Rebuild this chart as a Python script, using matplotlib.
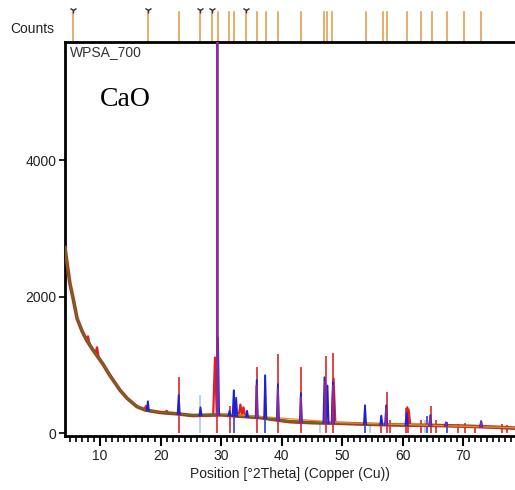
import numpy as np
import matplotlib
matplotlib.use("Agg")
import matplotlib.pyplot as plt
from matplotlib.ticker import MultipleLocator
import matplotlib.transforms as mtransforms

# ---- data ----
base_x = [4.2, 4.6, 5.0, 5.6, 6.2, 7.0, 7.8, 8.9, 10.5, 11.6, 13.3, 14.5, 16.1, 17.5,
          19.9, 22.7, 25.3, 30.0, 33.0, 36.4, 41.3, 45.0, 50.0, 55.0, 60.0, 65.0, 70.0, 75.0, 78.6]
base_y = [2720, 2450, 2200, 1950, 1680, 1500, 1360, 1210, 1010, 850, 630, 510, 390, 340,
          305, 285, 260, 270, 250, 230, 170, 155, 145, 130, 120, 115, 105, 90, 75]

# fitted-profile peaks (blue line)
peak_pos = [17.9, 23.0, 26.6, 29.5, 31.4, 32.1, 32.5, 34.3, 35.9, 37.3, 39.4, 43.2,
            47.1, 47.6, 48.5, 53.8, 56.5, 57.3, 60.7, 64.6, 67.2, 73.0]
peak_h = [470, 560, 380, 1400, 330, 630, 520, 330, 780, 850, 720, 590,
          820, 700, 750, 410, 260, 410, 300, 265, 160, 180]
# purple overlay peaks
purple_pos = [29.4, 35.9, 39.4, 43.2, 47.2, 48.5, 57.3, 64.6, 67.2, 73.0]
purple_h = [7000, 700, 650, 520, 760, 700, 360, 240, 150, 170]

# red observed bumps
red_pos = [8.0, 9.5, 17.6, 21.0, 29.0, 33.2, 33.7, 48.6, 60.8, 61.0]
red_h = [1420, 1260, 400, 330, 1110, 420, 380, 800, 380, 350]

# reference sticks
red_stick_pos = [23.0, 29.4, 31.5, 35.9, 39.4, 43.2, 47.3, 48.5, 56.5, 57.4, 58.0,
                 60.6, 60.9, 63.1, 64.7, 65.6, 69.1, 70.3, 72.0, 76.5, 77.3]
red_stick_h = [820, 7000, 400, 970, 1160, 970, 1130, 1170, 260, 600, 200,
               365, 300, 190, 400, 200, 130, 150, 120, 130, 120]
blue_stick_pos = [32.2, 37.3, 53.8, 64.1, 67.3]
blue_stick_h = [630, 850, 410, 250, 160]
lblue_stick_pos = [26.6, 46.3, 54.6, 63.8]
lblue_stick_h = [560, 200, 150, 200]

# reference positions shown above the plot
ref_pos = [5.5, 17.9, 23.0, 26.5, 28.5, 29.5, 31.3, 32.1, 34.1, 35.9, 37.4, 39.4, 43.2,
           47.1, 47.5, 48.4, 53.9, 56.7, 57.4, 60.7, 63.1, 64.8, 67.3, 70.2, 72.9]
ref_marked = [5.5, 17.9, 26.5, 28.5, 34.1]

x_ticks = [10, 20, 30, 40, 50, 60, 70]
y_ticks = [0, 2000, 4000]

FONT = "Liberation Sans"

fig = plt.figure(figsize=(5.15, 4.9), dpi=100)
ax = fig.add_axes([65 / 515, 1 - 436 / 490, 1 - 65 / 515, (436 - 42) / 490])
ax.set_xlim(4.2, 78.6)
ax.set_ylim(-40, 5730)


def base_at(x):
    return float(np.interp(x, base_x, base_y))


def draw_peaks(px, ph, width, **kw):
    for p, h in zip(px, ph):
        xs = [p - width, p, p + width]
        ys = [base_at(p - width), h, base_at(p + width)]
        ax.plot(xs, ys, **kw)


# sticks
ax.vlines(lblue_stick_pos, 0, lblue_stick_h, color="#a8cbe8", lw=1.2, zorder=2)
ax.vlines(blue_stick_pos, 0, blue_stick_h, color="#2a3fd6", lw=1.2, zorder=2)
ax.vlines(red_stick_pos, 0, red_stick_h, color="#d8262a", lw=1.2, zorder=2)

# background lines
ax.plot(base_x, base_y, color="#e02020", lw=2.6, zorder=3)
draw_peaks(red_pos, red_h, 0.3, color="#e02020", lw=1.6, zorder=3)
ax.plot(base_x, np.array(base_y) - 6, color="#8b4a1a", lw=1.2, zorder=3)
ax.plot(base_x, np.array(base_y) + 4, color="#2e8b2e", lw=0.9, zorder=3)
ax.plot([30, 50, 78.6], [base_at(30) + 20, base_at(50) + 10, base_at(78.6) + 5],
        color="#f08a20", lw=0.9, zorder=3)

# fitted profiles
draw_peaks(peak_pos, peak_h, 0.18, color="#2020d0", lw=1.3, zorder=4)
draw_peaks(purple_pos, purple_h, 0.08, color="#8a2a9a", lw=1.4, zorder=5)

# axes styling
ax.spines["right"].set_visible(False)
for s in ["left", "bottom", "top"]:
    ax.spines[s].set_linewidth(2.0)
ax.set_xticks(x_ticks)
ax.xaxis.set_minor_locator(MultipleLocator(1))
ax.set_yticks(y_ticks)
ax.tick_params(axis="x", which="major", direction="out", length=7, width=1.5,
               labelsize=10, pad=2)
ax.tick_params(axis="x", which="minor", direction="out", length=4, width=1.2)
ax.tick_params(axis="y", which="major", direction="out", length=4, width=1.2,
               labelsize=10, pad=2)
for lab in ax.get_xticklabels() + ax.get_yticklabels():
    lab.set_fontfamily(FONT)
    lab.set_color("#222222")

ax.set_xlabel("Position [°2Theta] (Copper (Cu))", fontsize=10, family=FONT,
              color="#222222", labelpad=3)

ax.text(0.012, 0.992, "WPSA_700", transform=ax.transAxes, ha="left", va="top",
        fontsize=10, family=FONT, color="#333333")
ax.text(0.077, 0.855, "CaO", transform=ax.transAxes, ha="left", va="center",
        fontsize=20, family="Liberation Serif", color="black")

# reference ticks above axes
trans = mtransforms.blended_transform_factory(ax.transData, ax.transAxes)
top = 1 + 30 / 394
for p in ref_pos:
    ax.plot([p, p], [1.0, top], transform=trans, color="#e0a050", lw=1.2,
            clip_on=False, zorder=1)
ax.plot(ref_marked, [top + 0.004] * len(ref_marked), transform=trans, ls="none",
        marker="1", color="#333333", ms=5, mew=1.0, clip_on=False)
fig.text(10 / 515, 1 - 29 / 490, "Counts", ha="left", va="center", fontsize=10,
         family=FONT, color="#222222")

fig.savefig("out.png", dpi=100)
